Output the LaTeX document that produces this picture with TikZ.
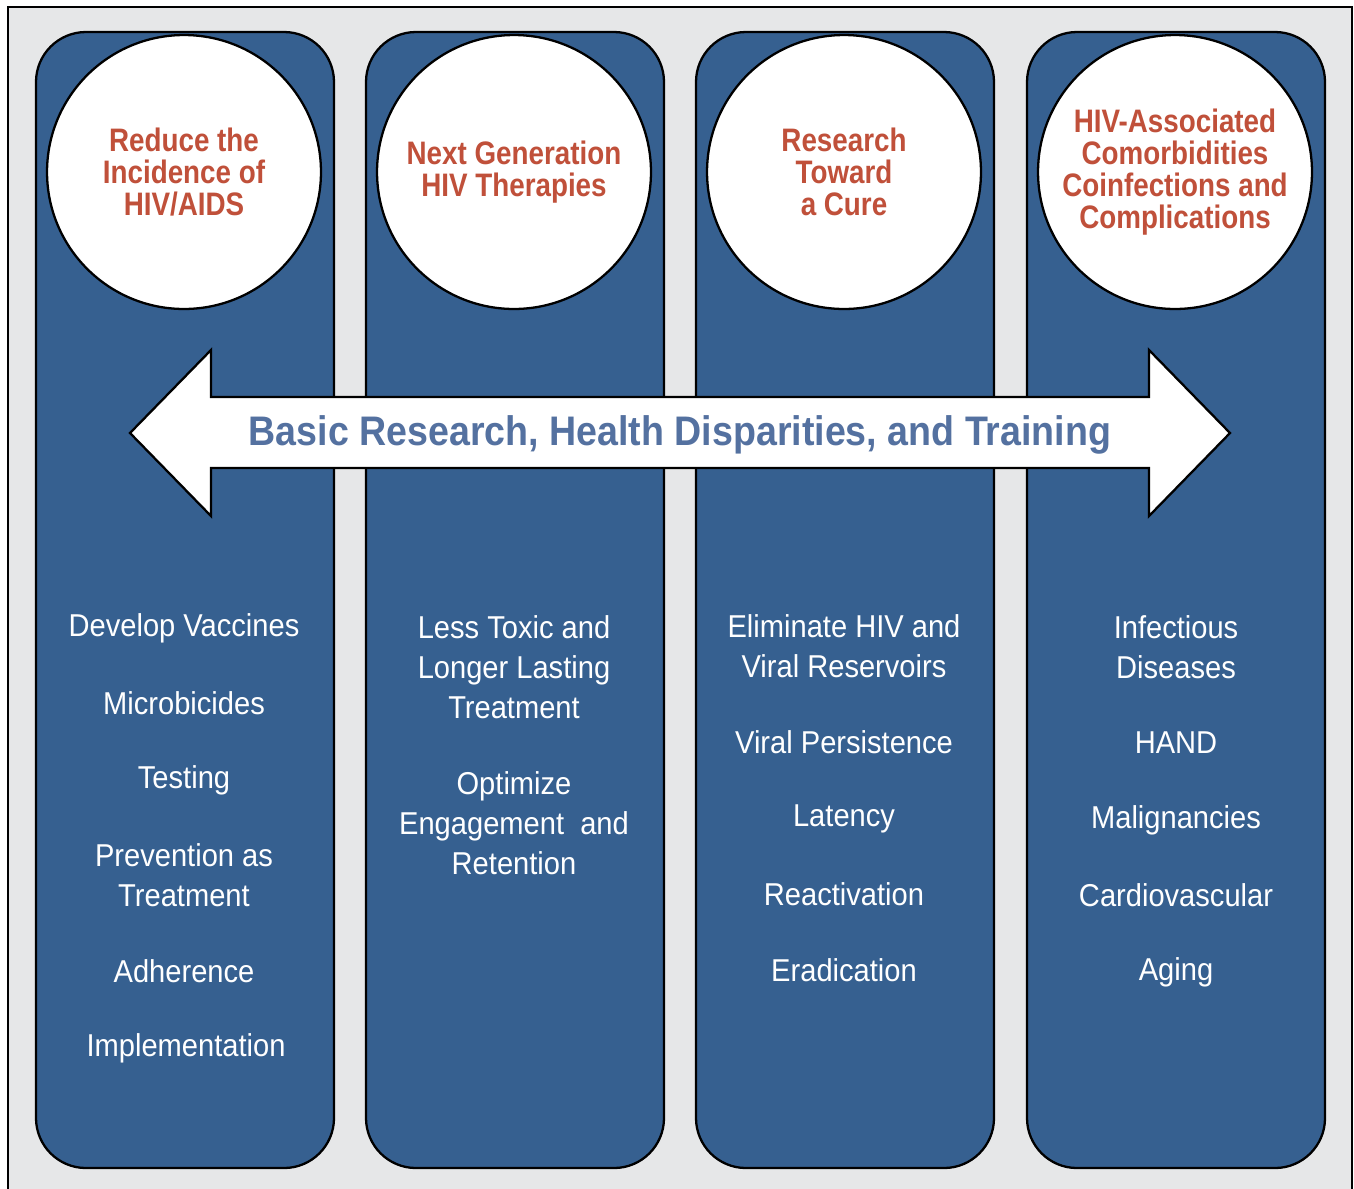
\documentclass[tikz,border=0pt]{standalone}
\usepackage{fontspec}
\setmainfont{Liberation Sans}
\newfontfamily\narrowfont[FakeStretch=0.92]{Liberation Sans}
\newfontfamily\titlefont[FakeStretch=0.855]{Liberation Sans}
\newfontfamily\bannerfont[FakeStretch=0.91]{Liberation Sans}
\usetikzlibrary{positioning}
\definecolor{framegray}{RGB}{230,231,232}
\definecolor{colblue}{RGB}{54,96,144}
\definecolor{titlered}{RGB}{192,80,58}
\definecolor{bannerblue}{RGB}{84,113,160}

\begin{document}
\begin{tikzpicture}[x=0.02cm,y=-0.02cm]
            \tikzstyle{column}=[draw,line width=1.3pt,fill=colblue,rounded corners=1cm]
            \tikzstyle{goal}=[circle,draw,line width=1.3pt,fill=white,minimum size=5.48cm,
            align=center,text=titlered,font=\titlefont\bfseries\fontsize{18.5}{18.2}\selectfont]
            \tikzstyle{items}=[align=center,text=white,font=\narrowfont\fontsize{18}{22.7}\selectfont]

            \useasboundingbox (0,0) rectangle (1354,1188);
            \draw [fill=framegray,line width=1.1pt] (8,7) rectangle (1352,1200);

            % the four columns
            \draw [column] (36,32) rectangle (334,1168);
            \draw [column] (366,32) rectangle (664,1168);
            \draw [column] (696,32) rectangle (994,1168);
            \draw [column] (1027,32) rectangle (1325,1168);

            % goals
            \node [goal] (incidence) at (184,172) {Reduce the\\Incidence of\\HIV/AIDS};
            \node [goal] (therapies) at (514,172) {Next Generation\\HIV Therapies};
            \node [goal] (cure) at (844,172) {Research\\Toward\\a Cure};
            \node [goal] (comorbid) at (1175,172) {HIV-Associated\\Comorbidities\\Coinfections and\\Complications};

            % cross-cutting arrow
            \draw [fill=white,line width=1.3pt] (130,433) -- (211,350) -- (211,397) -- (1149,397)
                -- (1149,350) -- (1230,433) -- (1149,516) -- (1149,468) -- (211,468) -- (211,516) -- cycle;
            \node [text=bannerblue,font=\bannerfont\bfseries\fontsize{23.5}{26}\selectfont] (basic) at (680,435)
                {Basic Research, Health Disparities, and Training};

            % research areas
            \node [items] (vaccines) at (184,628) {Develop Vaccines};
            \node [items] (microbicides) at (184,703) {Microbicides};
            \node [items] (testing) at (184,780) {Testing};
            \node [items] (prevention) at (184,875) {Prevention as\\Treatment};
            \node [items] (adherence) at (184,971) {Adherence};
            \node [items] (implement) at (186,1048) {Implementation};

            \node [items] (toxic) at (514,667) {Less Toxic and\\Longer Lasting\\Treatment};
            \node [items] (engage) at (514,823) {Optimize\\Engagement\ \ and\\Retention};

            \node [items] (eliminate) at (844,646) {Eliminate HIV and\\Viral Reservoirs};
            \node [items] (persist) at (844,742) {Viral Persistence};
            \node [items] (latency) at (844,819) {Latency};
            \node [items] (reactiv) at (844,894) {Reactivation};
            \node [items] (eradic) at (844,970) {Eradication};

            \node [items] (infect) at (1176,647) {Infectious\\Diseases};
            \node [items] (hand) at (1176,743) {HAND};
            \node [items] (malign) at (1176,820) {Malignancies};
            \node [items] (cardio) at (1176,895) {Cardiovascular};
            \node [items] (aging) at (1176,972) {Aging};
\end{tikzpicture}
\end{document}
